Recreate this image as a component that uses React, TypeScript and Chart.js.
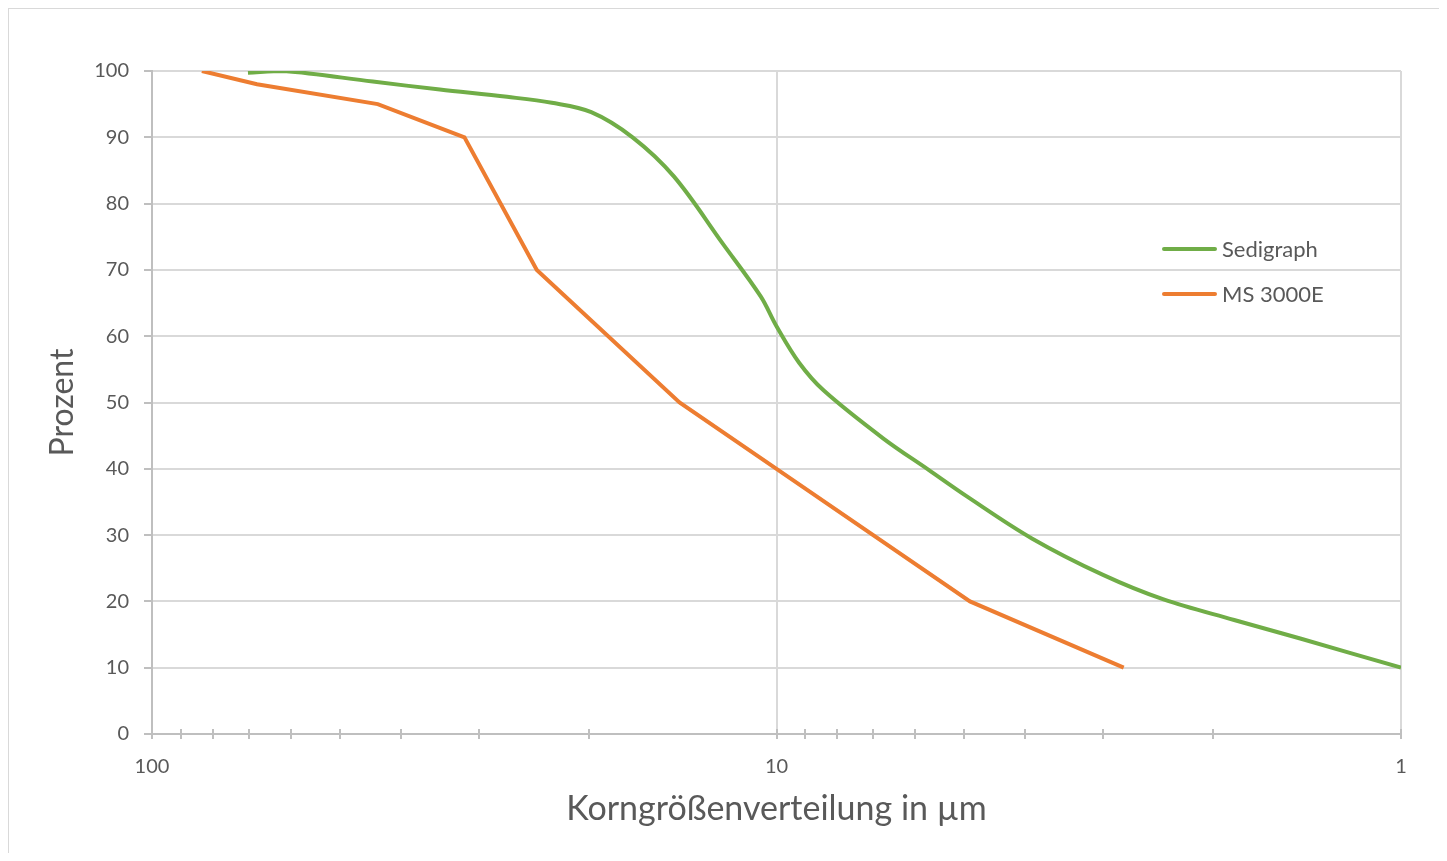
import React, { useEffect, useRef } from "react";
import { Chart, registerables } from "chart.js";

Chart.register(...registerables);

// ---- Data ----
const seriesLabels = ["Sedigraph", "MS 3000E"];

// Sedigraph: grain size (µm) vs cumulative percent
const sedigraphSize = [70.2, 61.5, 44.3, 34.6, 27.0, 22.9, 19.8, 17.0, 14.6, 12.2, 10.6, 10.0, 9.2, 8.4, 6.75, 5.7, 4.95, 3.9, 3.0, 2.4, 1.85, 1.45, 1.0];
const sedigraphPercent = [99.75, 100, 98.4, 97.2, 96.1, 95.2, 93.8, 90.0, 84.1, 74.0, 66.0, 61.5, 56.0, 51.8, 44.6, 39.8, 35.8, 29.5, 24.0, 20.3, 17.2, 14.4, 10.0];

// MS 3000E
const msSize = [83.2, 67.9, 43.5, 31.6, 24.2, 14.3, 10.0, 4.9, 2.78];
const msPercent = [100, 98, 95, 90, 70, 50, 40, 20, 10];

// Axis ticks
const xTickValues = [100, 90, 80, 70, 60, 50, 40, 30, 20, 10, 9, 8, 7, 6, 5, 4, 3, 2, 1];
const xLabelValues = [100, 10, 1];
const yMin = 0;
const yMax = 100;
const yStep = 10;

const xTitle = "Korngrößenverteilung in µm";
const yTitle = "Prozent";

const FONT = "Lato";
const TEXT = "#595959";
const GRID = "#d9d9d9";
const AXIS = "#bfbfbf";
const COLORS = ["#70AD47", "#ED7D31"];

const upTicksPlugin = {
  id: "upTicks",
  afterDraw(chart: any) {
    const xs = chart.scales.x;
    const ctx = chart.ctx;
    ctx.save();
    ctx.strokeStyle = AXIS;
    ctx.lineWidth = 2;
    ctx.beginPath();
    xs.ticks.forEach((t: any) => {
      const px = Math.round(xs.getPixelForValue(t.value));
      ctx.moveTo(px, xs.top - 5);
      ctx.lineTo(px, xs.top);
    });
    ctx.stroke();
    ctx.restore();
  },
};

const insideLegendPlugin = {
  id: "insideLegend",
  afterDraw(chart: any) {
    const ctx = chart.ctx;
    ctx.save();
    chart.data.datasets.forEach((ds: any, i: number) => {
      const y = 240 + i * 45;
      ctx.strokeStyle = ds.borderColor;
      ctx.lineWidth = 4;
      ctx.lineCap = "round";
      ctx.beginPath();
      ctx.moveTo(1155, y);
      ctx.lineTo(1206, y);
      ctx.stroke();
      ctx.fillStyle = TEXT;
      ctx.font = `22px ${FONT}`;
      ctx.textBaseline = "middle";
      ctx.textAlign = "left";
      ctx.fillText(ds.label, 1213, y + 1);
    });
    ctx.restore();
  },
};

export default function App() {
  const ref = useRef<HTMLCanvasElement>(null);

  useEffect(() => {
    if (!ref.current) return;
    const chart = new Chart(ref.current, {
      type: "line",
      data: {
        datasets: [
          {
            label: seriesLabels[0],
            data: sedigraphSize.map((x, i) => ({ x, y: sedigraphPercent[i] })),
            borderColor: COLORS[0],
            backgroundColor: COLORS[0],
            borderWidth: 4,
            pointRadius: 0,
            tension: 0.35,
            fill: false,
          },
          {
            label: seriesLabels[1],
            data: msSize.map((x, i) => ({ x, y: msPercent[i] })),
            borderColor: COLORS[1],
            backgroundColor: COLORS[1],
            borderWidth: 4,
            pointRadius: 0,
            tension: 0,
            fill: false,
          },
        ],
      },
      options: {
        responsive: false,
        animation: false,
        layout: { padding: { top: 62, right: 38, left: 0, bottom: 0 } },
        plugins: {
          legend: { display: false },
          tooltip: { enabled: false },
        },
        scales: {
          x: {
            type: "logarithmic",
            reverse: true,
            min: 1,
            max: 100,
            afterFit: (s: any) => {
              s.height = 119;
            },
            afterBuildTicks: (s: any) => {
              s.ticks = xTickValues.map((v) => ({ value: v }));
            },
            border: { display: true, color: AXIS, width: 2 },
            grid: {
              color: (c: any) =>
                c.tick && xLabelValues.includes(c.tick.value) ? GRID : "rgba(0,0,0,0)",
              lineWidth: 2,
              tickColor: AXIS,
              tickLength: 5,
              tickWidth: 2,
            },
            ticks: {
              autoSkip: false,
              maxRotation: 0,
              minRotation: 0,
              padding: 16,
              color: TEXT,
              font: { family: FONT, size: 20 },
              callback: (v: any) => (xLabelValues.includes(Number(v)) ? String(v) : ""),
            },
            title: {
              display: true,
              text: xTitle,
              color: TEXT,
              font: { family: FONT, size: 34 },
              padding: { top: 0, bottom: 24 },
            },
          },
          y: {
            type: "linear",
            min: yMin,
            max: yMax,
            afterFit: (s: any) => {
              s.width = 143;
            },
            border: { display: true, color: AXIS, width: 2 },
            grid: {
              color: GRID,
              lineWidth: 2,
              tickColor: AXIS,
              tickLength: 8,
              tickWidth: 2,
            },
            ticks: {
              stepSize: yStep,
              padding: 15,
              color: TEXT,
              font: { family: FONT, size: 20 },
            },
            title: {
              display: true,
              text: yTitle,
              color: TEXT,
              font: { family: FONT, size: 32 },
              padding: { top: 34, bottom: 0 },
            },
          },
        },
      },
      plugins: [upTicksPlugin, insideLegendPlugin],
    } as any);
    return () => chart.destroy();
  }, []);

  return (
    <div
      style={{
        width: 1431,
        height: 845,
        boxSizing: "border-box",
        borderLeft: "1px solid #d9d9d9",
        borderTop: "1px solid #d9d9d9",
        background: "#ffffff",
      }}
    >
      <canvas ref={ref} width={1430} height={844} style={{ display: "block" }} />
    </div>
  );
}
